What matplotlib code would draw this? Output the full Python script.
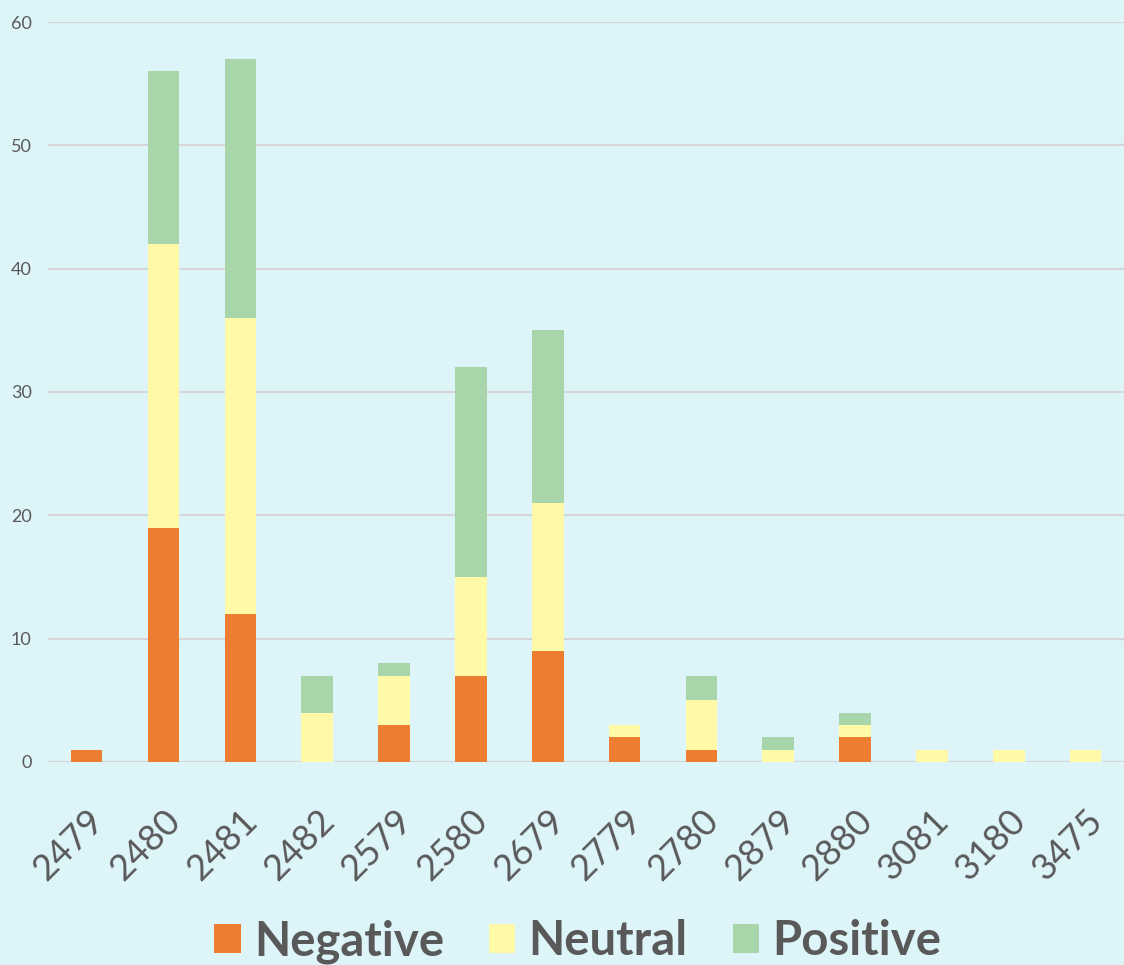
import matplotlib
matplotlib.use('Agg')
import matplotlib.pyplot as plt
import numpy as np

plt.rcParams['font.family'] = ['Lato', 'DejaVu Sans']

categories = ['2479', '2480', '2481', '2482', '2579', '2580', '2679',
              '2779', '2780', '2879', '2880', '3081', '3180', '3475']
negative = [1, 19, 12, 0, 3, 7, 9, 2, 1, 0, 2, 0, 0, 0]
neutral = [0, 23, 24, 4, 4, 8, 12, 1, 4, 1, 1, 1, 1, 1]
positive = [0, 14, 21, 3, 1, 17, 14, 0, 2, 1, 1, 0, 0, 0]

bg = '#DDF4F8'
txt = '#595959'

fig = plt.figure(figsize=(11.24, 9.65), dpi=100, facecolor=bg)
ax = fig.add_axes([0.043, 0.2104, 0.957, 0.7668], facecolor=bg)

x = np.arange(len(categories))
neg = np.array(negative)
neu = np.array(neutral)
pos = np.array(positive)
w = 0.41
ax.bar(x, neg, w, color='#ED7D31', label='Negative', zorder=3)
ax.bar(x, neu, w, bottom=neg, color='#FFF9A8', label='Neutral', zorder=3)
ax.bar(x, pos, w, bottom=neg + neu, color='#A9D5AB', label='Positive', zorder=3)

ax.set_xlim(-0.5, len(categories) - 0.5)
ax.set_ylim(0, 60)
ax.set_yticks(range(0, 61, 10))
ax.yaxis.grid(True, color='#D6D6D6', linewidth=1.5, zorder=0)
for s in ax.spines.values():
    s.set_visible(False)
ax.tick_params(axis='both', length=0, colors=txt)
ax.tick_params(axis='y', labelsize=13, pad=12)
ax.set_xticks(x)
ax.set_xticklabels(categories, rotation=45, ha='right', rotation_mode='anchor',
                   fontsize=26)
ax.tick_params(axis='x', pad=30)

leg = fig.legend(loc='lower center', bbox_to_anchor=(0.514, -0.043), ncol=3,
                 frameon=False, handlelength=0.56, handleheight=0.56,
                 columnspacing=0.95, handletextpad=0.28,
                 prop={'size': 34, 'weight': 'bold'})
for t in leg.get_texts():
    t.set_color(txt)

fig.savefig('out.png', dpi=100, facecolor=bg)
